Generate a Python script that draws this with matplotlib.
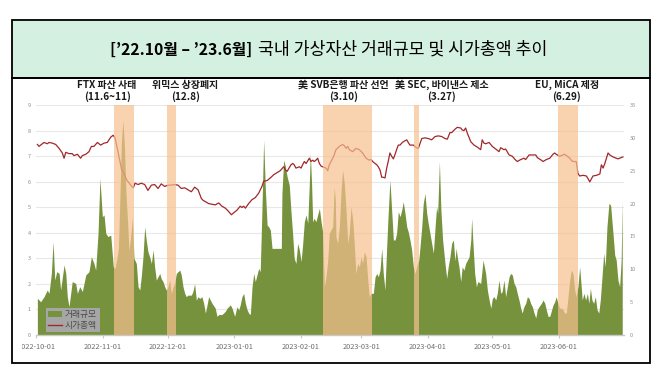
import matplotlib
matplotlib.use('Agg')
import matplotlib.pyplot as plt
import matplotlib.transforms as mtransforms
from matplotlib.patches import Rectangle, Patch
from matplotlib.lines import Line2D
from matplotlib.transforms import Bbox
import pandas as pd

plt.rcParams['font.family'] = ['Noto Sans CJK KR', 'DejaVu Sans']

# ---------------- data ----------------
title_a = "[’22.10월 – ’23.6월]"
title_b = "국내 가상자산 거래규모 및 시가총액 추이"
start_date = '2022-10-01'
tick_dates = ['2022-10-01', '2022-11-01', '2022-12-01', '2023-01-01', '2023-02-01',
              '2023-03-01', '2023-04-01', '2023-05-01', '2023-06-01']
series_names = ['거래규모', '시가총액']

# trading volume (left axis) : day offset from start_date, value
area_days = [0.5, 2.0, 3.6, 5.1, 5.9, 7.0, 7.8, 8.6, 9.5, 10.6, 11.3, 12.9, 13.7, 14.4, 15.2,
             16.7, 18.3, 19.1, 20.2, 21.4, 23.0, 24.5, 25.6, 26.8, 27.6, 28.7, 29.6, 30.7, 31.5,
             32.3, 33.3, 34.6, 35.8, 36.6, 37.5, 38.2, 38.9, 39.6, 40.3, 41.0, 41.7, 42.4, 43.1,
             43.8, 44.7, 45.4, 46.5, 47.3, 48.1, 48.8, 49.6, 50.4, 51.1, 51.9, 52.7, 53.5, 54.3,
             55.0, 55.8, 56.6, 57.4, 58.1, 58.9, 59.7, 60.4, 61.2, 62.0, 62.8, 63.6, 64.3, 65.1,
             65.9, 66.7, 67.4, 68.2, 69.0, 69.7, 70.5, 72.1, 72.8, 73.6, 74.4, 75.2, 76.0, 77.0,
             77.8, 78.6, 79.4, 80.1, 80.9, 81.7, 83.2, 84.0, 84.8, 86.3, 87.9, 88.7, 90.2, 91.0,
             92.2, 93.3, 94.1, 94.8, 95.6, 96.4, 97.2, 98.0, 98.7, 99.5, 100.3, 101.1, 101.8,
             102.6, 103.4, 104.1, 104.9, 105.7, 106.5, 107.3, 108.0, 108.8, 109.6, 113.9, 114.2,
             115.0, 115.8, 116.6, 117.6, 118.4, 119.2, 119.9, 120.7, 121.5, 122.3, 123.1, 123.8,
             124.6, 125.4, 126.2, 126.9, 127.4, 128.0, 128.5, 129.2, 130.0, 130.8, 131.6, 132.4,
             133.1, 133.9, 134.7, 135.5, 136.2, 137.8, 138.5, 139.0, 139.3, 140.1, 140.9, 141.7,
             142.4, 143.2, 144.0, 144.8, 145.5, 146.3, 147.1, 147.8, 148.6, 149.4, 150.2, 151.0,
             151.7, 152.5, 153.3, 154.1, 154.8, 155.6, 156.7, 157.5, 158.3, 159.0, 159.8, 160.6,
             161.3, 162.1, 162.9, 163.6, 164.4, 165.2, 166.0, 166.8, 167.5, 168.3, 169.1, 169.9,
             170.6, 171.4, 172.2, 172.9, 173.7, 174.5, 175.3, 176.1, 176.8, 177.8, 178.4, 179.2,
             179.9, 180.7, 181.5, 182.2, 183.0, 183.8, 184.6, 185.4, 186.1, 186.6, 187.4, 188.1,
             188.9, 190.0, 190.8, 191.5, 192.3, 193.1, 193.9, 194.6, 195.2, 195.7, 196.5, 197.3,
             198.0, 198.8, 199.6, 200.4, 201.2, 202.0, 202.4, 203.0, 203.8, 204.6, 205.3, 206.6,
             207.7, 208.9, 209.7, 210.5, 211.3, 212.0, 212.8, 213.6, 214.3, 215.1, 215.9, 216.6,
             217.4, 218.2, 219.0, 219.8, 220.5, 221.3, 222.1, 222.9, 223.6, 224.4, 225.2, 225.9,
             226.7, 227.5, 228.3, 229.1, 229.8, 230.6, 231.4, 232.2, 232.9, 233.7, 234.8, 235.6,
             236.4, 237.1, 237.9, 238.7, 239.4, 240.2, 241.0, 241.7, 242.5, 243.3, 244.1, 244.9,
             245.6, 246.4, 247.2, 248.0, 248.7, 249.5, 250.3, 251.0, 251.8, 252.6, 253.1, 253.8,
             254.6, 255.4, 256.2, 256.9, 257.6, 258.3, 259.1, 259.9, 260.7, 261.5, 262.2, 263.0,
             263.8, 264.5, 265.3, 266.2, 267.0, 268.1, 268.9, 269.6, 270.4, 271.2, 271.9, 272.4]
area_vals = [1.44, 1.30, 1.50, 1.76, 1.63, 2.41, 3.65, 2.15, 2.48, 2.41, 1.76, 2.74, 2.41, 1.50, 1.11,
             2.09, 2.02, 1.63, 1.89, 1.70, 2.35, 2.48, 3.06, 2.80, 2.54, 3.98, 6.13, 4.63, 4.70,
             3.98, 3.85, 3.91, 2.67, 2.60, 3.00, 3.40, 5.50, 7.60, 8.40, 7.30, 5.50, 4.50, 3.30,
             3.80, 4.60, 3.00, 2.80, 1.89, 1.76, 2.28, 3.06, 4.24, 3.72, 3.26, 3.06, 2.80, 3.33,
             2.67, 2.15, 2.28, 2.41, 2.20, 2.09, 1.89, 1.76, 1.89, 2.15, 1.63, 1.89, 2.02, 2.41,
             2.48, 2.54, 2.35, 1.89, 1.63, 1.50, 1.56, 1.56, 1.70, 2.00, 1.37, 1.50, 1.43, 1.50,
             1.24, 0.86, 1.18, 1.50, 1.37, 1.24, 1.05, 0.73, 0.80, 0.80, 0.93, 1.05, 1.18, 1.05,
             0.73, 1.11, 0.98, 1.18, 1.50, 1.63, 1.24, 0.99, 0.86, 0.80, 1.89, 2.41, 2.09,
             2.35, 2.61, 2.48, 4.89, 7.63, 5.67, 4.30, 4.24, 4.11, 3.39, 3.39, 5.54,
             6.85, 6.59, 6.20, 5.87, 4.83, 3.91, 3.00, 2.80, 3.59, 3.33, 2.87, 3.52,
             4.43, 4.70, 4.37, 5.87, 7.11, 5.87, 4.43, 4.57, 4.43, 4.70, 4.96, 4.43,
             4.04, 1.89, 2.28, 2.93, 3.98, 4.24, 5.80, 5.30, 3.85, 3.59, 4.24, 5.67,
             6.46, 5.93, 4.89, 3.59, 3.98, 5.02, 4.50, 3.59, 2.41, 2.80, 2.67, 3.06,
             2.80, 3.26, 3.06, 2.15, 1.50, 1.63, 1.63, 2.28, 2.41, 2.28, 2.54, 3.39,
             2.41, 1.76, 3.46, 4.76, 6.07, 4.89, 3.72, 3.72, 3.98, 4.83, 4.63, 4.89,
             5.22, 4.76, 4.24, 4.04, 3.72, 3.33, 2.67, 2.41, 2.67, 2.93, 3.46, 4.24,
             5.15, 5.54, 4.76, 4.37, 3.98, 3.59, 3.20, 4.24, 5.02, 4.76, 6.78, 4.89,
             3.72, 2.80, 2.22, 2.67, 3.06, 3.59, 3.72, 2.90, 3.40, 3.06, 2.67, 2.09,
             2.67, 2.54, 2.80, 2.93, 3.06, 3.72, 4.57, 3.59, 2.41, 1.89, 2.09, 2.02,
             2.93, 2.41, 1.76, 1.37, 1.05, 1.43, 1.50, 1.37, 1.63, 2.15, 1.63, 1.70,
             2.15, 1.50, 1.89, 2.28, 2.41, 2.35, 2.02, 1.89, 1.63, 1.37, 1.05, 0.86,
             1.11, 1.24, 1.50, 1.43, 1.24, 1.11, 0.86, 0.67, 0.99, 1.11, 1.24, 1.37,
             1.24, 0.99, 0.73, 0.73, 0.93, 1.17, 1.30, 1.50, 1.24, 1.05, 1.05, 0.99,
             0.86, 0.86, 1.50, 2.15, 2.54, 2.41, 1.76, 1.50, 1.89, 2.67, 2.15, 1.37,
             1.63, 1.37, 1.63, 1.24, 1.83, 1.37, 1.24, 1.50, 0.99, 0.86, 1.37, 2.28,
             3.20, 2.67, 4.24, 5.15, 5.08, 3.98, 3.13, 2.93, 2.15, 1.89, 2.93, 5.28]

# market cap (right axis) : day offset from start_date, value
line_days = [0.5, 1.3, 2.0, 2.8, 3.6, 5.1, 5.9, 7.4, 9.0, 10.6, 12.1, 12.9, 13.7, 15.2, 16.7,
             17.5, 19.1, 20.6, 21.4, 23.0, 24.5, 25.6, 26.8, 28.4, 29.9, 31.5, 33.0, 34.6, 35.7,
             36.6, 38.1, 39.7, 40.4, 42.0, 44.4, 45.1, 45.9, 47.3, 48.8, 50.4, 51.9, 53.5, 55.0,
             56.6, 58.1, 59.7, 61.2, 62.8, 64.3, 65.9, 67.4, 69.0, 70.5, 72.1, 73.6, 75.2, 76.7,
             77.5, 78.6, 80.1, 81.7, 83.2, 84.8, 86.3, 87.9, 89.4, 90.7, 91.8, 93.3, 94.8, 95.6,
             96.4, 97.2, 98.7, 100.3, 101.8, 103.4, 104.9, 105.7, 107.3, 108.8, 110.4, 111.9,
             113.4, 115.0, 115.8, 116.6, 117.3, 118.4, 119.2, 119.9, 120.7, 122.3, 123.1, 123.8,
             124.6, 125.4, 126.2, 126.9, 127.7, 128.5, 129.2, 130.0, 130.8, 131.6, 132.4, 133.1,
             134.7, 135.5, 136.2, 137.8, 138.5, 139.3, 140.9, 142.4, 143.2, 144.0, 144.8, 145.5,
             147.1, 148.6, 150.2, 151.7, 153.3, 154.8, 155.6, 156.7, 158.3, 159.0, 159.8, 160.6,
             161.3, 162.1, 162.9, 163.6, 164.4, 165.2, 166.0, 166.8, 167.5, 168.3, 169.1, 169.9,
             170.6, 172.2, 172.9, 173.7, 175.3, 176.8, 177.6, 179.2, 180.7, 182.2, 183.8, 185.4,
             186.9, 188.5, 190.0, 191.1, 192.3, 193.1, 194.6, 195.7, 197.3, 198.0, 198.8, 199.6,
             200.4, 202.0, 203.5, 205.0, 206.6, 207.3, 208.1, 208.9, 210.5, 212.0, 213.6, 215.1,
             215.9, 217.4, 218.2, 219.8, 221.3, 222.9, 223.6, 225.2, 226.7, 227.5, 229.1, 230.6,
             232.2, 232.9, 234.8, 235.6, 237.1, 238.7, 240.2, 241.0, 241.7, 243.3, 244.9, 245.6,
             246.9, 248.0, 248.7, 249.5, 251.0, 251.8, 252.6, 254.2, 255.7, 256.5, 257.3, 258.8,
             260.4, 262.0, 262.7, 263.5, 264.3, 265.8, 266.6, 268.1, 269.6, 270.4, 271.2, 272.7]
line_vals = [29.0, 28.7, 28.9, 29.1, 29.3, 29.1, 29.3, 29.2, 29.0, 28.4, 27.7, 26.9, 27.8, 27.6, 27.6,
             27.3, 27.5, 26.9, 27.3, 27.5, 27.9, 28.7, 28.7, 29.3, 28.9, 29.2, 29.3, 30.1, 30.4,
             30.0, 27.7, 25.1, 24.9, 23.6, 22.6, 22.4, 23.1, 22.9, 23.1, 22.9, 22.0, 22.8, 22.9,
             22.3, 23.0, 22.6, 22.8, 22.8, 22.9, 22.8, 22.3, 22.4, 22.1, 21.8, 22.5, 22.1, 20.8,
             20.5, 20.3, 20.0, 19.9, 19.8, 20.1, 19.6, 19.3, 18.8, 18.3, 18.6, 19.0, 19.6, 19.4,
             19.6, 19.3, 20.0, 20.6, 20.9, 21.6, 22.6, 23.4, 23.5, 23.9, 24.4, 24.7,
             25.0, 25.6, 25.1, 24.9, 25.3, 25.9, 26.1, 25.9, 25.4, 25.6, 25.4, 25.9,
             26.4, 26.1, 26.5, 26.9, 26.4, 26.6, 26.4, 26.6, 26.9, 26.1, 25.7, 25.6,
             25.4, 25.0, 25.9, 26.9, 27.4, 28.2, 28.7, 29.0, 28.8, 28.4, 28.7, 28.2,
             27.9, 28.4, 28.2, 27.7, 26.9, 26.6, 26.7, 26.3, 25.9, 25.6, 25.1, 24.0,
             24.0, 23.9, 25.4, 26.4, 27.7, 27.2, 26.8, 27.5, 28.2, 28.9, 28.9, 29.2,
             29.4, 29.7, 29.3, 28.9, 28.9, 28.5, 28.4, 29.9, 30.0, 29.9, 29.7, 30.2,
             30.3, 30.2, 29.9, 29.8, 30.8, 30.8, 31.3, 31.6, 31.5, 31.2, 31.1, 31.5,
             30.7, 29.4, 28.9, 28.6, 28.2, 29.7, 29.2, 29.1, 29.3, 28.7, 28.3, 27.9,
             28.5, 28.2, 28.3, 27.4, 27.2, 26.6, 26.4, 26.7, 26.9, 26.7, 27.4, 27.4,
             27.4, 27.0, 26.6, 26.4, 26.7, 26.9, 27.5, 27.7, 27.5, 27.2, 27.4, 27.5,
             27.2, 26.9, 26.6, 26.4, 26.4, 24.6, 24.2, 24.3, 24.2, 23.8, 23.3, 24.2,
             24.3, 24.5, 25.9, 25.4, 26.1, 27.7, 27.4, 27.1, 26.9, 26.8, 26.9, 27.1]

event_labels = ['FTX 파산 사태\n(11.6~11)', '위믹스 상장폐지\n(12.8)', '美 SVB은행 파산 선언\n(3.10)',
                '美 SEC, 바이낸스 제소\n(3.27)', 'EU, MiCA 제정\n(6.29)']
event_starts = [36.1, 60.9, 133.1, 175.6, 242.4]
event_ends = [45.3, 64.9, 156.1, 177.8, 251.7]
label_days = [32.9, 69.3, 142.8, 188.6, 246.6]
left_ticks = list(range(0, 10))
right_ticks = list(range(0, 40, 5))

# ---------------- figure ----------------
W, H = 662, 373
fig = plt.figure(figsize=(W / 100, H / 100), dpi=100)

def fx(px):
    return px / W

def fy(py):
    return 1 - py / H

box_l, box_r, box_t, box_m, box_b = 12, 650, 20, 78, 363
fig.patches.append(Rectangle((fx(box_l), fy(box_m)), fx(box_r - box_l), (box_m - box_t) / H,
                             transform=fig.transFigure, facecolor='#d3f0e1', edgecolor='black',
                             lw=1.3, zorder=0))
fig.patches.append(Rectangle((fx(box_l), fy(box_b)), fx(box_r - box_l), (box_b - box_m) / H,
                             transform=fig.transFigure, facecolor='none', edgecolor='black',
                             lw=1.3, zorder=0))

# title (two parts)
ty = fy(49.5)
t1 = fig.text(0, ty, title_a, family=['Liberation Sans Narrow', 'Noto Sans CJK KR'],
              fontweight='bold', fontsize=13, ha='left', va='center', color='black')
t2 = fig.text(0, ty, title_b, family=['Noto Sans CJK KR'], fontweight='medium',
              fontsize=12, ha='left', va='center', color='black')
fig.canvas.draw()
r = fig.canvas.get_renderer()
w1 = t1.get_window_extent(r).width
w2 = t2.get_window_extent(r).width
t1.set_fontsize(13 * 142 / w1)
t2.set_fontsize(12 * 291 / w2)
t1.set_x(fx(110.5))
t2.set_x(fx(257.5))

# axes
x0px, x1px, ybot, ytop = 36.3, 624.0, 335.0, 105.0
ax = fig.add_axes([fx(x0px), fy(ybot), fx(x1px - x0px), (ybot - ytop) / H])
ax2 = ax.twinx()

start = pd.Timestamp(start_date)
tick_pos = [(pd.Timestamp(t) - start).days for t in tick_dates]
xmax = (x1px - x0px) / 2.151

green = '#76923c'
red = '#a0282a'

ax.fill_between(area_days, 0, area_vals, color=green, lw=0, zorder=2)
ax2.plot(line_days, line_vals, color=red, lw=0.9, zorder=2)
for s, e in zip(event_starts, event_ends):
    ax2.axvspan(s, e, color='#f7c08f', alpha=0.7, lw=0, zorder=3)

ax.set_xlim(0, xmax)
ax.set_ylim(0, 9)
ax2.set_ylim(0, 35)
ax.set_yticks(left_ticks)
ax2.set_yticks(right_ticks)
ax.set_xticks(tick_pos)
ax.set_xticklabels(tick_dates)

ax.set_axisbelow(True)
ax.yaxis.grid(True, color='#e8e8e8', lw=0.8)
for sp in ['top', 'left', 'right']:
    ax.spines[sp].set_visible(False)
for sp in ax2.spines.values():
    sp.set_visible(False)
ax.spines['bottom'].set_color('#c8c8c8')
ax.spines['bottom'].set_linewidth(1.0)
ax.spines['bottom'].set_zorder(5)

ax.tick_params(axis='y', length=0, labelsize=4, labelcolor='#8c8c8c', pad=4)
ax2.tick_params(axis='y', length=0, labelsize=4, labelcolor='#8c8c8c', pad=4)
ax.tick_params(axis='x', length=2.5, color='#c8c8c8', labelsize=5.3, labelcolor='#6e6e6e', pad=3)

# event labels
trans = mtransforms.blended_transform_factory(ax.transData, fig.transFigure)
for lab, d in zip(event_labels, label_days):
    ax.text(d, fy(91), lab, transform=trans, ha='center', va='center', fontsize=7.2,
            fontweight='bold', linespacing=1.15, color='#1a1a1a', clip_on=False)

# legend
handles = [Patch(facecolor=green, edgecolor='none'), Line2D([], [], color=red, lw=1)]
leg = ax2.legend(handles, series_names, loc='lower left', bbox_to_anchor=(0.016, 0.012),
                 frameon=True, facecolor='#a6a6a6', edgecolor='none', framealpha=1,
                 fancybox=False, fontsize=6.3, borderpad=0.3, handlelength=1.6,
                 handleheight=0.7, labelspacing=0.15, handletextpad=0.3, borderaxespad=0)
for t in leg.get_texts():
    t.set_color('#4a4a4a')
leg.set_zorder(10)

# the first date label is cropped at the left like in the source image
fig.canvas.draw()
clip = Bbox.from_extents(22, 0, W, H)
for lbl in ax.get_xticklabels():
    lbl.set_clip_box(clip)
    lbl.set_clip_on(True)

fig.savefig('out.png', dpi=100)
